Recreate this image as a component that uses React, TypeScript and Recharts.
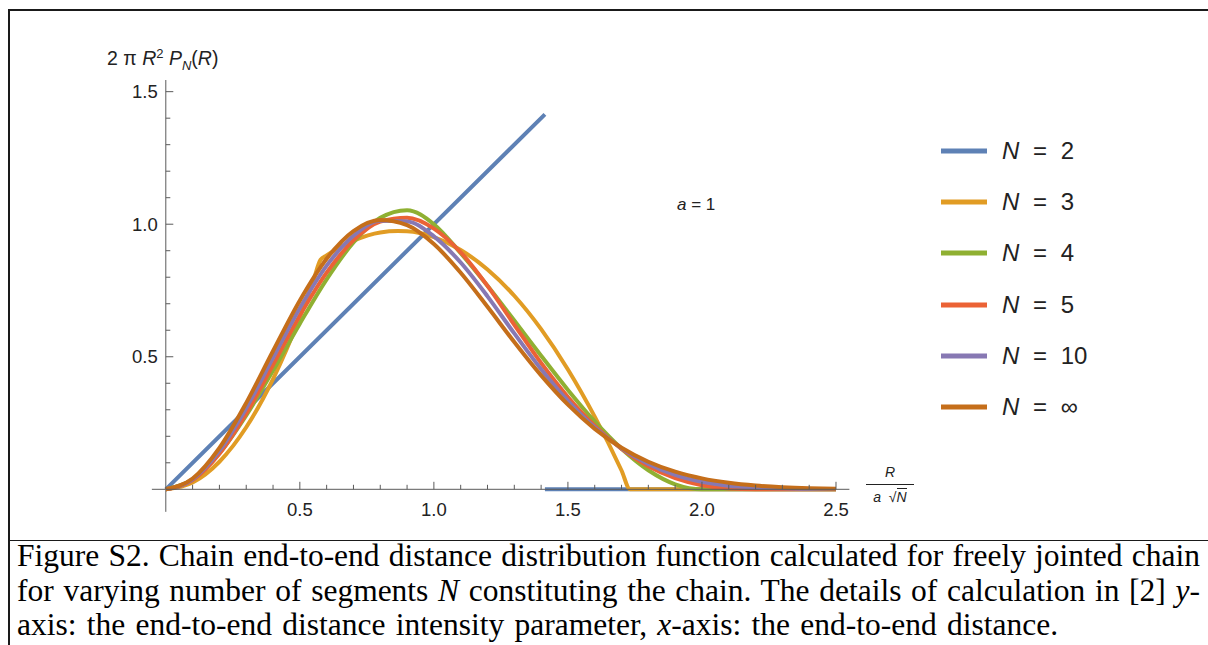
import React from 'react';
import { LineChart, Line, XAxis, YAxis, ReferenceLine } from 'recharts';

// ---- data ----
const xGrid = [0, 0.1, 0.2, 0.3, 0.4, 0.5, 0.6, 0.7, 0.8, 0.9, 1.0, 1.1, 1.2, 1.3, 1.4, 1.5, 1.6, 1.7, 1.8, 1.9, 2.0, 2.1, 2.2, 2.3, 2.4, 2.5];

const n2X = [0, 1.4142, 1.4142, 1.4142, 2.5];
const n2Y: (number | null)[] = [0, 1.4142, null, 0, 0];

const n3X = [0, 0.1, 0.2, 0.3, 0.4, 0.5, 0.55, 0.5774, 0.6, 0.65, 0.7, 0.8, 0.866, 0.9, 1.0, 1.1, 1.2, 1.3, 1.4, 1.5, 1.6, 1.7, 1.732, 2.0, 2.5];
const n3Y = [0, 0.026, 0.104, 0.234, 0.416, 0.65, 0.786, 0.866, 0.882, 0.914, 0.938, 0.969, 0.974, 0.973, 0.951, 0.903, 0.829, 0.73, 0.604, 0.452, 0.274, 0.071, 0, 0, 0];

const n4Y = [0, 0.037, 0.136, 0.279, 0.448, 0.625, 0.792, 0.931, 1.024, 1.053, 1.0, 0.891, 0.768, 0.637, 0.504, 0.375, 0.256, 0.153, 0.072, 0.019, 0, 0, 0, 0, 0, 0];
const n5Y = [0, 0.0346, 0.1342, 0.2862, 0.4696, 0.6555, 0.8174, 0.939, 1.0095, 1.0242, 0.9836, 0.894, 0.7672, 0.6206, 0.4764, 0.3483, 0.2398, 0.1525, 0.0869, 0.042, 0.0153, 0.0031, 0.0001, 0, 0, 0];
const n10Y = [0, 0.0377, 0.1452, 0.3061, 0.4957, 0.6839, 0.8436, 0.9565, 1.0127, 1.0103, 0.9543, 0.8554, 0.7279, 0.588, 0.453, 0.3338, 0.2339, 0.1547, 0.0955, 0.0543, 0.0282, 0.0138, 0.0071, 0.0035, 0.0016, 0.0007];
const nInfY = [0, 0.0408, 0.1562, 0.326, 0.5218, 0.7124, 0.8698, 0.9741, 1.0159, 0.9964, 0.9251, 0.8169, 0.6885, 0.5553, 0.4296, 0.3192, 0.2281, 0.157, 0.1041, 0.0666, 0.0411, 0.0245, 0.0141, 0.0079, 0.0042, 0.0022];

const seriesNames = ['N = 2', 'N = 3', 'N = 4', 'N = 5', 'N = 10', 'N = \u221E'];
const seriesLabels = ['2', '3', '4', '5', '10', '\u221E'];
const seriesColors = ['#5E81B5', '#E19C24', '#8FB032', '#EB6235', '#8778B3', '#C56E1A'];

const xTicks = [0.1, 0.2, 0.3, 0.4, 0.5, 0.6, 0.7, 0.8, 0.9, 1.0, 1.1, 1.2, 1.3, 1.4, 1.5, 1.6, 1.7, 1.8, 1.9, 2.0, 2.1, 2.2, 2.3, 2.4, 2.5];
const xMajor = [0.5, 1.0, 1.5, 2.0, 2.5];
const yTicks = [0.1, 0.2, 0.3, 0.4, 0.5, 0.6, 0.7, 0.8, 0.9, 1.0, 1.1, 1.2, 1.3, 1.4, 1.5];
const yMajor = [0.5, 1.0, 1.5];

const xDomain: [number, number] = [0, 2.55];
const yDomain: [number, number] = [0, 1.544];
const xAxisExtent = -0.052;
const yAxisExtent = -0.085;

const pts = (xs: number[], ys: (number | null)[]) => xs.map((x, i) => ({ x, y: ys[i] }));
const seriesData = [
  pts(n2X, n2Y),
  pts(n3X, n3Y),
  pts(xGrid, n4Y),
  pts(xGrid, n5Y),
  pts(xGrid, n10Y),
  pts(xGrid, nInfY),
];

const AXIS = '#5a5a5a';
const TEXT = '#222';
const SANS = "'Liberation Sans', Arial, sans-serif";
const SERIF = "'Liberation Serif', 'Times New Roman', serif";

const isIn = (arr: number[], v: number) => arr.some((m) => Math.abs(m - v) < 1e-6);

const XTick = (props: any) => {
  const { x, y, payload } = props;
  const v = payload.value as number;
  const major = isIn(xMajor, v);
  return (
    <g>
      <line x1={x} x2={x} y1={y} y2={y - (major ? 7.5 : 4.5)} stroke={AXIS} strokeWidth={1} />
      {major && (
        <text x={x} y={y + 20} textAnchor="middle" dominantBaseline="central" fontSize={18.5} fill={TEXT} fontFamily={SANS}>
          {v.toFixed(1)}
        </text>
      )}
    </g>
  );
};

const YTick = (props: any) => {
  const { x, y, payload } = props;
  const v = payload.value as number;
  const major = isIn(yMajor, v);
  return (
    <g>
      <line x1={x} x2={x + (major ? 7.5 : 4.5)} y1={y} y2={y} stroke={AXIS} strokeWidth={1} />
      {major && (
        <text x={x - 8} y={y} textAnchor="end" dominantBaseline="central" fontSize={18.5} fill={TEXT} fontFamily={SANS}>
          {v.toFixed(1)}
        </text>
      )}
    </g>
  );
};

const X_AXIS_H = 30;
const Y_AXIS_W = 40;

export default function App() {
  return (
    <div style={{ position: 'absolute', left: 0, top: 0, width: 1208, height: 645, overflow: 'hidden', background: '#fff' }}>
      {/* frame */}
      <div style={{ position: 'absolute', left: 8, top: 9, width: 1300, height: 800, borderLeft: '2px solid #1a1a1a', borderTop: '2px solid #1a1a1a' }} />
      <div style={{ position: 'absolute', left: 9, top: 540, width: 1300, height: 0, borderTop: '1.5px solid #1a1a1a' }} />

      <div style={{ position: 'absolute', left: 0, top: 0 }}>
        <LineChart
          width={1208}
          height={645}
          margin={{ top: 80, right: 358.6, bottom: 155.7 - X_AXIS_H, left: 165.8 - Y_AXIS_W }}
        >
          <XAxis
            type="number"
            dataKey="x"
            domain={xDomain}
            ticks={xTicks}
            interval={0}
            tick={<XTick />}
            tickLine={false}
            tickSize={0}
            tickMargin={0}
            height={X_AXIS_H}
            axisLine={{ stroke: AXIS, strokeWidth: 1 }}
          />
          <YAxis
            type="number"
            domain={yDomain}
            ticks={yTicks}
            interval={0}
            tick={<YTick />}
            tickLine={false}
            tickSize={0}
            tickMargin={0}
            width={Y_AXIS_W}
            axisLine={{ stroke: AXIS, strokeWidth: 1 }}
          />
          <ReferenceLine segment={[{ x: xAxisExtent, y: 0 }, { x: 0, y: 0 }]} stroke={AXIS} strokeWidth={1} ifOverflow="visible" />
          <ReferenceLine segment={[{ x: 0, y: 0 }, { x: 0, y: yAxisExtent }]} stroke={AXIS} strokeWidth={1} ifOverflow="visible" />
          {seriesData.map((d, i) => (
            <Line
              key={seriesNames[i]}
              name={seriesNames[i]}
              data={d}
              dataKey="y"
              type={i === 0 ? 'linear' : 'monotone'}
              stroke={seriesColors[i]}
              strokeWidth={4}
              dot={false}
              activeDot={false}
              connectNulls={false}
              isAnimationActive={false}
            />
          ))}
        </LineChart>
      </div>

      {/* y-axis label */}
      <div style={{ position: 'absolute', left: 107, top: 45, fontFamily: SANS, fontSize: 19.5, color: TEXT, lineHeight: '26px', whiteSpace: 'nowrap' }}>
        2 π <i>R</i>
        <span style={{ fontSize: 13, verticalAlign: 'super', lineHeight: 0 }}>2</span> <i>P</i>
        <span style={{ fontSize: 13, verticalAlign: 'sub', lineHeight: 0 }}><i>N</i></span>(<i>R</i>)
      </div>

      {/* x-axis label */}
      <div style={{ position: 'absolute', left: 866, top: 463, width: 48, textAlign: 'center', fontFamily: SANS, fontSize: 14, color: TEXT }}>
        <div style={{ lineHeight: '18px' }}><i>R</i></div>
        <div style={{ borderTop: '1.5px solid #222', margin: '3px 0 3px 0' }} />
        <div style={{ lineHeight: '18px', whiteSpace: 'nowrap' }}>
          <i>a</i>&nbsp;&nbsp;√<span style={{ borderTop: '1px solid #222' }}><i>N</i></span>
        </div>
      </div>

      {/* annotation */}
      <div style={{ position: 'absolute', left: 677, top: 194, fontFamily: SANS, fontSize: 17, color: TEXT, lineHeight: '22px', whiteSpace: 'nowrap' }}>
        <i>a</i> = 1
      </div>

      {/* legend */}
      <div style={{ position: 'absolute', left: 941, top: 125, fontFamily: SANS, fontSize: 24, color: TEXT }}>
        {seriesLabels.map((lab, i) => (
          <div key={lab} style={{ height: 51.3, display: 'flex', alignItems: 'center' }}>
            <svg width={46} height={8} style={{ marginRight: 15 }}>
              <line x1={0} x2={46} y1={4} y2={4} stroke={seriesColors[i]} strokeWidth={5} />
            </svg>
            <span style={{ whiteSpace: 'nowrap', wordSpacing: 7 }}>
              <i>N</i> = {lab}
            </span>
          </div>
        ))}
      </div>

      {/* caption */}
      <div style={{ position: 'absolute', left: 17, top: 539, width: 1183, fontFamily: SERIF, fontSize: 31.5, lineHeight: '34.5px', color: '#000' }}>
        <div style={{ textAlign: 'justify', textAlignLast: 'justify', whiteSpace: 'nowrap' } as any}>
          Figure S2. Chain end-to-end distance distribution function calculated for freely jointed chain
        </div>
        <div style={{ textAlign: 'justify', textAlignLast: 'justify', whiteSpace: 'nowrap' } as any}>
          for varying number of segments <i>N</i> constituting the chain. The details of calculation in [2] <i>y</i>-
        </div>
        <div style={{ whiteSpace: 'nowrap', wordSpacing: 2.4 }}>
          axis: the end-to-end distance intensity parameter, <i>x</i>-axis: the end-to-end distance.
        </div>
      </div>
    </div>
  );
}
